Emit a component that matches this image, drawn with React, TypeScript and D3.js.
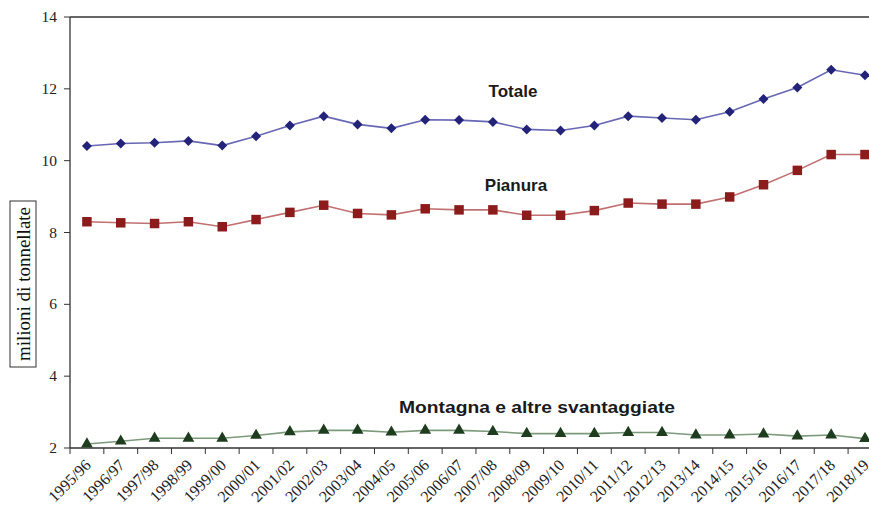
import React from "react";
import * as d3 from "d3";

const categories = ["1995/96","1996/97","1997/98","1998/99","1999/00","2000/01","2001/02","2002/03","2003/04","2004/05","2005/06","2006/07","2007/08","2008/09","2009/10","2010/11","2011/12","2012/13","2013/14","2014/15","2015/16","2016/17","2017/18","2018/19"];
const totale = [10.41,10.48,10.50,10.55,10.42,10.68,10.98,11.24,11.01,10.90,11.14,11.13,11.08,10.87,10.84,10.98,11.24,11.19,11.14,11.36,11.72,12.04,12.53,12.38];
const pianura = [8.30,8.27,8.25,8.30,8.16,8.36,8.56,8.76,8.53,8.49,8.66,8.63,8.63,8.48,8.48,8.61,8.82,8.79,8.79,8.99,9.33,9.73,10.17,10.17];
const montagna = [2.11,2.19,2.27,2.27,2.27,2.35,2.45,2.49,2.49,2.44,2.49,2.49,2.46,2.40,2.40,2.40,2.43,2.43,2.36,2.36,2.39,2.33,2.36,2.26];
const yTicks = [2,4,6,8,10,12,14];

const W = 869, H = 510;
const left = 70, top = 17, bottom = 448;
const right = left + 24 * 33.83;

export default function App() {
  const x = d3.scaleBand<string>().domain(categories).range([left, right]).padding(0);
  const y = d3.scaleLinear().domain([2, 14]).range([bottom, top]);
  const cx = (c: string) => (x(c) as number) + x.bandwidth() / 2;
  const line = d3.line<number>().x((_, i) => cx(categories[i])).y((v) => y(v));

  const series = [
    { data: totale, line: "#6767b4", mark: "#23237a", shape: "diamond" },
    { data: pianura, line: "#c07070", mark: "#8c1c1c", shape: "square" },
    { data: montagna, line: "#7d9a7d", mark: "#1e3d1e", shape: "triangle" },
  ];
  const sym = (s: string) => {
    if (s === "diamond") return d3.symbol(d3.symbolSquare, 50)();
    if (s === "square") return d3.symbol(d3.symbolSquare, 90)();
    return d3.symbol(d3.symbolTriangle, 60)();
  };
  const serif = "'Liberation Serif', 'Times New Roman', serif";
  const sans = "'Liberation Sans', Arial, sans-serif";
  const axisColor = "#333";

  return (
    <svg width={W} height={H} style={{ position: "absolute", left: 0, top: 0, background: "#fff" }}>
      <line x1={left} x2={right} y1={top} y2={top} stroke={axisColor} strokeWidth={1.3} />
      <line x1={left} x2={left} y1={top} y2={bottom} stroke={axisColor} strokeWidth={1.3} />
      {yTicks.map((t) => (
        <g key={t}>
          <line x1={left - 6} x2={left} y1={y(t)} y2={y(t)} stroke={axisColor} strokeWidth={1} />
          <text x={left - 13} y={y(t) + 5} textAnchor="end" fontFamily={serif} fontSize={15.5} fill="#222">{t}</text>
        </g>
      ))}
      <line x1={left} x2={right} y1={bottom} y2={bottom} stroke={axisColor} strokeWidth={1.3} />
      {categories.map((c) => (
        <line key={"t" + c} x1={x(c) as number} x2={x(c) as number} y1={bottom} y2={bottom + 6} stroke={axisColor} strokeWidth={1} />
      ))}
      {categories.map((c) => (
        <text key={"l" + c} transform={`translate(${cx(c) + 5},${bottom + 18}) rotate(-45)`} textAnchor="end" fontFamily={serif} fontSize={16} fill="#222">{c}</text>
      ))}
      <rect x={10} y={201} width={26} height={166} fill="none" stroke="#333" strokeWidth={1} />
      <text transform={`translate(29.5,284) rotate(-90)`} textAnchor="middle" fontFamily={serif} fontSize={19} fill="#111">milioni di tonnellate</text>
      {series.map((s, si) => (
        <g key={si}>
          <path d={line(s.data) as string} fill="none" stroke={s.line} strokeWidth={1.6} />
          {s.data.map((v, i) => (
            <path key={i} d={sym(s.shape) as string} transform={`translate(${cx(categories[i])},${y(v)})${s.shape === "diamond" ? " rotate(45)" : ""}`} fill={s.mark} />
          ))}
        </g>
      ))}
      <text x={513} y={97} textAnchor="middle" fontFamily={sans} fontWeight="bold" fontSize={17} fill="#1a1a1a">Totale</text>
      <text x={516} y={191} textAnchor="middle" fontFamily={sans} fontWeight="bold" fontSize={17} fill="#1a1a1a">Pianura</text>
      <text x={399} y={413} fontFamily={sans} fontWeight="bold" fontSize={17} fill="#1a1a1a" textLength={276} lengthAdjust="spacingAndGlyphs">Montagna e altre svantaggiate</text>
    </svg>
  );
}
